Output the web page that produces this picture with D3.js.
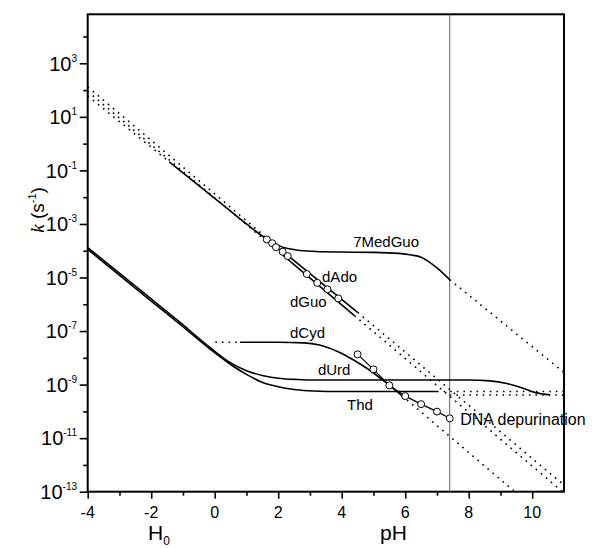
<!DOCTYPE html>
<html><head><meta charset="utf-8">
<script src="https://cdn.jsdelivr.net/npm/d3@7"></script>
<style>
body{margin:0;background:#fff}
svg{display:block}
text{font-family:"Liberation Sans",Arial,sans-serif;fill:#000}
</style>
</head><body>
<svg id="chart" width="592" height="548"></svg>
<script>
// x = H0 (acid) / pH ; values are log10 k (s^-1)
const xMajorTicks = [-4, -2, 0, 2, 4, 6, 8, 10];
const xMinorTicks = [-3, -1, 1, 3, 5, 7, 9];
const yMajorExp = [-13, -11, -9, -7, -5, -3, -1, 1, 3];
const yMinorExp = [-12, -10, -8, -6, -4, -2, 0, 2, 4];
const physiologicalPH = 7.4;

// 7MedGuo
const medGuoDotLeft = [[-4, 1.78], [-1.43, -0.68]];
const medGuoSolid = [[-1.43, -0.68], [-0.5, -1.57], [0.5, -2.52], [1.0, -3.0], [1.5, -3.45], [1.8, -3.67], [2.0, -3.8], [2.3, -3.92], [2.7, -3.99], [3.2, -4.03], [4.0, -4.05], [5.0, -4.06], [5.8, -4.1], [6.2, -4.16], [6.5, -4.24], [7.0, -4.64], [7.4, -5.08]];
const medGuoDotRight = [[7.4, -5.08], [11, -8.55]];

// dAdo
const dAdoDotLeft = [[-4, 2.12], [2.2, -4.08]];
const dAdoSolid = [[2.2, -4.08], [4.5, -6.3]];
const dAdoDotRight = [[4.5, -6.3], [11, -12.75]];

// dGuo
const dGuoDotLeft = [[-4, 1.95], [2.1, -4.12]];
const dGuoSolid = [[2.1, -4.12], [4.4, -6.42]];
const dGuoDotRight = [[4.4, -6.42], [10.95, -13.0]];

// dCyd
const dCydDotLeft = [[0.02, -7.42], [0.8, -7.42]];
const dCydSolid = [[0.8, -7.42], [2.0, -7.42], [2.8, -7.44], [3.3, -7.52], [3.9, -7.78], [4.4, -8.1], [4.8, -8.4], [5.4, -8.93], [5.9, -9.42]];
const dCydDotRight = [[5.9, -9.42], [9.45, -13.0]];

// dUrd
const dUrdSolid = [[-4, -3.88], [-2, -5.8], [-1.09, -6.68], [-0.14, -7.62], [0.49, -8.18], [1.0, -8.48], [1.5, -8.66], [2.0, -8.76], [2.6, -8.81], [3.2, -8.83], [5.0, -8.83], [8.0, -8.83], [8.67, -8.86], [9.2, -8.96], [9.62, -9.1], [10.1, -9.3], [10.56, -9.38]];
const dUrdDot = [[7.4, -9.39], [11, -9.39]];

// Thd
const thdSolid = [[-4, -3.95], [-2, -5.88], [-1.09, -6.75], [-0.14, -7.68], [0.49, -8.24], [1.0, -8.62], [1.53, -8.93], [2.0, -9.08], [2.5, -9.18], [3.1, -9.24], [4.0, -9.26], [7.0, -9.26]];
const thdDot = [[7.0, -9.26], [11, -9.26]];

// measured points (open circles)
const nucleosidePH = [1.64, 1.81, 1.93, 2.14, 2.30, 2.90, 3.23, 3.55, 3.89];
const nucleosideLogK = [-3.58, -3.72, -3.87, -4.04, -4.20, -4.87, -5.20, -5.44, -5.78];
const dnaPH = [4.5, 5.0, 5.5, 6.0, 6.5, 7.0, 7.4];
const dnaLogK = [-7.87, -8.43, -9.03, -9.43, -9.73, -10.01, -10.26];

// curve labels: [text, x, log10 k, font size]
const labels = [
  ["7MedGuo", 4.36, -3.86, 15],
  ["dAdo", 3.38, -5.17, 15],
  ["dGuo", 2.37, -6.10, 15],
  ["dCyd", 2.37, -7.26, 15],
  ["dUrd", 3.25, -8.64, 15],
  ["Thd", 4.17, -9.95, 15],
  ["DNA depurination", 7.73, -10.51, 16]
];

const L = 87.7, R = 564, T = 14.3, B = 491.7;
const svg = d3.select("#chart");
const x = d3.scaleLinear().domain([-4, 11]).range([L, R]);
const y = d3.scaleLog().domain([1e-13, Math.pow(10, 4.83)]).range([B, T]);
const Y = v => y(Math.pow(10, v));

// axes
const gL = svg.append("g").attr("transform", `translate(${L},0)`);
gL.call(d3.axisLeft(y).tickValues(yMajorExp.map(e => Math.pow(10, e))).tickSize(8).tickSizeOuter(0).tickFormat(""));
gL.call(g => g.select(".domain").remove());
const gLm = svg.append("g").attr("transform", `translate(${L},0)`);
gLm.call(d3.axisLeft(y).tickValues(yMinorExp.map(e => Math.pow(10, e))).tickSize(4.5).tickSizeOuter(0).tickFormat(""));
gLm.call(g => g.select(".domain").remove());
const gB = svg.append("g").attr("transform", `translate(0,${B})`);
gB.call(d3.axisBottom(x).tickValues(xMajorTicks).tickSize(7).tickSizeOuter(0).tickFormat(""));
gB.call(g => g.select(".domain").remove());
const gBm = svg.append("g").attr("transform", `translate(0,${B})`);
gBm.call(d3.axisBottom(x).tickValues(xMinorTicks).tickSize(4).tickSizeOuter(0).tickFormat(""));
gBm.call(g => g.select(".domain").remove());
svg.selectAll(".tick line").attr("stroke", "#000").attr("stroke-width", 1.6);

// tick labels
xMajorTicks.forEach(t => {
  svg.append("text").attr("x", x(t)).attr("y", 518).attr("text-anchor", "middle")
    .attr("font-size", 16).text(t < 0 ? "-" + Math.abs(t) : String(t));
});
yMajorExp.forEach(e => {
  const tx = svg.append("text").attr("x", 77).attr("y", Y(e) + 7.3).attr("text-anchor", "end").attr("font-size", 20);
  tx.append("tspan").text("10");
  tx.append("tspan").attr("font-size", 10).attr("dy", -9).text(String(e));
});

// axis titles
const yt = svg.append("text").attr("transform", "translate(44,210) rotate(-90)").attr("text-anchor", "middle").attr("font-size", 19);
yt.append("tspan").attr("font-family", "'Liberation Serif','Times New Roman',serif").attr("font-style", "italic").text("k");
yt.append("tspan").text(" (s");
yt.append("tspan").attr("font-size", 11).attr("dy", -8).text("-1");
yt.append("tspan").attr("dy", 8).text(")");

const h0 = svg.append("text").attr("x", 148).attr("y", 540).attr("font-size", 21);
h0.append("tspan").text("H");
h0.append("tspan").attr("font-size", 12).attr("dy", 5).text("0");
svg.append("text").attr("x", 380).attr("y", 540).attr("font-size", 21).text("pH");

// frame
svg.append("rect").attr("x", L).attr("y", T).attr("width", R - L).attr("height", B - T)
  .attr("fill", "none").attr("stroke", "#000").attr("stroke-width", 2);

// physiological pH marker
svg.append("line").attr("x1", x(physiologicalPH)).attr("x2", x(physiologicalPH))
  .attr("y1", T).attr("y2", B).attr("stroke", "#666").attr("stroke-width", 1);

const clip = svg.append("clipPath").attr("id", "clip").append("rect")
  .attr("x", L).attr("y", T).attr("width", R - L).attr("height", B - T);
const plot = svg.append("g").attr("clip-path", "url(#clip)");

const lineSmooth = d3.line().x(d => x(d[0])).y(d => Y(d[1])).curve(d3.curveMonotoneX);
const lineStraight = d3.line().x(d => x(d[0])).y(d => Y(d[1]));

function solid(data) {
  plot.append("path").attr("d", lineSmooth(data)).attr("fill", "none")
    .attr("stroke", "#000").attr("stroke-width", 1.6);
}
function dotted(data) {
  plot.append("path").attr("d", lineStraight(data)).attr("fill", "none")
    .attr("stroke", "#000").attr("stroke-width", 1.6).attr("stroke-dasharray", "1.6 5");
}

[medGuoDotLeft, medGuoDotRight, dAdoDotLeft, dAdoDotRight, dGuoDotLeft, dGuoDotRight,
 dCydDotLeft, dCydDotRight, dUrdDot, thdDot].forEach(dotted);
[medGuoSolid, dAdoSolid, dGuoSolid, dCydSolid, dUrdSolid, thdSolid].forEach(solid);

// DNA depurination series
const dnaData = dnaPH.map((p, i) => [p, dnaLogK[i]]);
plot.append("path").attr("d", lineStraight(dnaData)).attr("fill", "none")
  .attr("stroke", "#000").attr("stroke-width", 1.2);
plot.selectAll("circle.dna").data(dnaData).join("circle").attr("class", "dna")
  .attr("cx", d => x(d[0])).attr("cy", d => Y(d[1])).attr("r", 3.5)
  .attr("fill", "#fff").attr("stroke", "#000").attr("stroke-width", 1);

const nucData = nucleosidePH.map((p, i) => [p, nucleosideLogK[i]]);
plot.selectAll("circle.nuc").data(nucData).join("circle").attr("class", "nuc")
  .attr("cx", d => x(d[0])).attr("cy", d => Y(d[1])).attr("r", 3.5)
  .attr("fill", "#fff").attr("stroke", "#000").attr("stroke-width", 1);

// labels
labels.forEach(([t, lx, ly, fs]) => {
  svg.append("text").attr("x", x(lx)).attr("y", Y(ly)).attr("font-size", fs).text(t);
});
</script>
</body></html>
